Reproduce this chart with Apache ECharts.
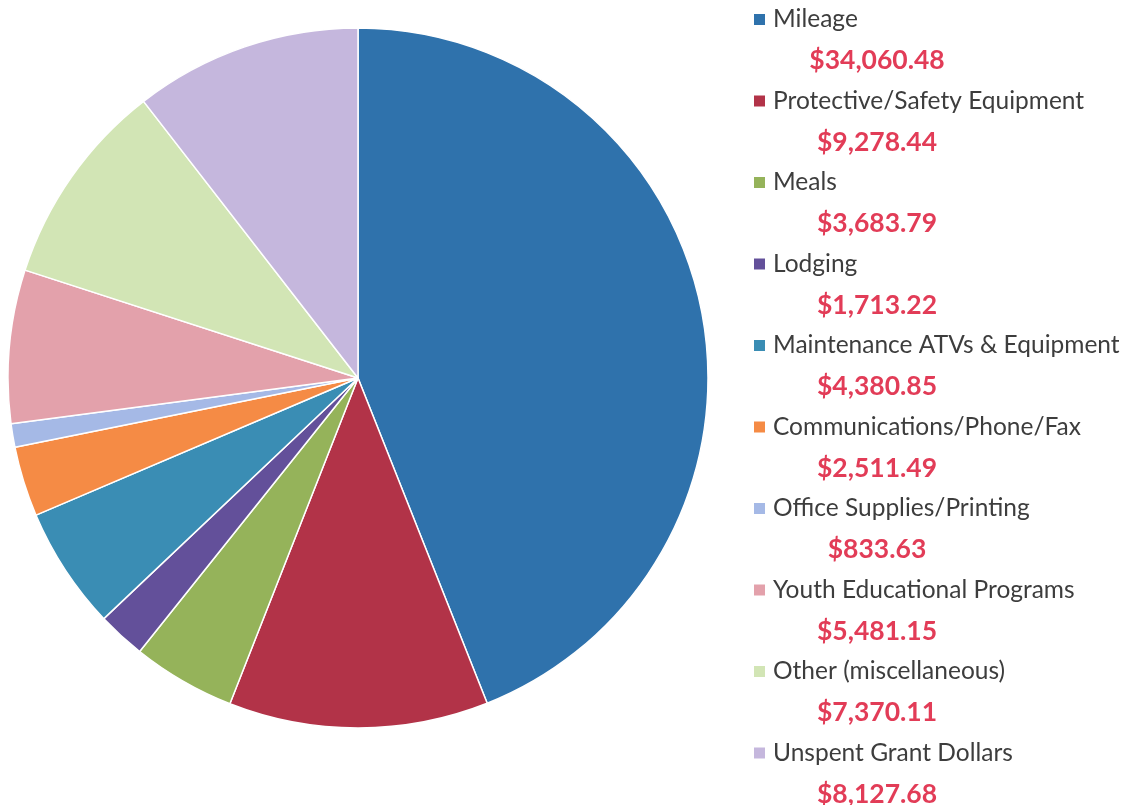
<!DOCTYPE html>
<html>
<head>
<meta charset="utf-8">
<script src="https://cdn.jsdelivr.net/npm/echarts@6/dist/echarts.min.js"></script>
<style>
  html, body { margin: 0; padding: 0; background: #fff; }
  #chart { width: 1127px; height: 805px; }
</style>
</head>
<body>
<div id="chart"></div>
<script>
const categories = [
  'Mileage',
  'Protective/Safety Equipment',
  'Meals',
  'Lodging',
  'Maintenance ATVs & Equipment',
  'Communications/Phone/Fax',
  'Office Supplies/Printing',
  'Youth Educational Programs',
  'Other (miscellaneous)',
  'Unspent Grant Dollars'
]
const amounts = [34060.48, 9278.44, 3683.79, 1713.22, 4380.85, 2511.49, 833.63, 5481.15, 7370.11, 8127.68]
const colors = ['#2f72ac', '#b23348', '#95b35a', '#63509a', '#3a8db4', '#f58b45', '#a5b9e6', '#e3a1ab', '#d2e5b5', '#c5b7dd']

const fmt = v => '$' + v.toLocaleString('en-US', { minimumFractionDigits: 2, maximumFractionDigits: 2 })

// legend text: square + name on line 1, value centred under it on line 2
const rich = {
  g: { width: 8, height: 1 },
  n: { fontFamily: 'Lato', fontSize: 24.5, color: '#3d3d3d', width: 340, lineHeight: 41 },
  v: { fontFamily: 'Lato', fontSize: 26.5, fontWeight: 'bold', color: '#e23c57', align: 'center', lineHeight: 41 },
  s: { width: 113, height: 1, align: 'right' }
}
colors.forEach((c, i) => {
  rich['i' + i] = { width: 11, height: 11, backgroundColor: c }
})

const chart = echarts.init(document.getElementById('chart'))
chart.setOption({
  animation: false,
  color: colors,
  legend: {
    orient: 'vertical',
    left: 748,
    top: 7,
    height: 2000,
    padding: 0,
    itemGap: 14.5,
    itemWidth: 0,
    itemHeight: 0,
    selectedMode: false,
    data: categories,
    formatter: name => {
      const i = categories.indexOf(name)
      return `{i${i}|}{g|}{n|${name}}\n{v|${fmt(amounts[i])}}{s|}`
    },
    textStyle: { rich: rich }
  },
  series: [{
    type: 'pie',
    center: [358, 378],
    radius: 350,
    startAngle: 90,
    clockwise: true,
    label: { show: false },
    labelLine: { show: false },
    itemStyle: { borderColor: '#fff', borderWidth: 1.5 },
    data: categories.map((c, i) => ({ name: c, value: amounts[i] }))
  }]
})
</script>
</body>
</html>
